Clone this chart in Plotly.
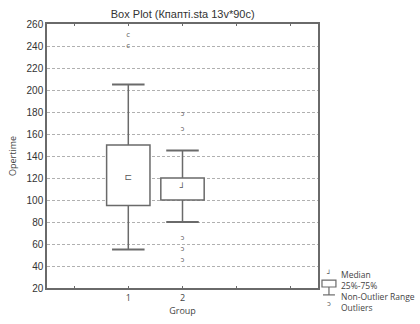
import plotly.graph_objects as go

# ---- data ----
groups = ["1", "2"]
group_pos = [1, 2]
q1 = [95, 100]
q3 = [150, 120]
median = [120, 110]
whisker_low = [55, 80]
whisker_high = [205, 145]
outliers = [[250, 240], [178, 164, 65, 55, 45]]
x_tickvals = [0, 1, 2, 3, 4]
x_ticktext = ["", "1", "2", "", ""]
y_ticks = list(range(20, 261, 20))

LINE = "#6a6a6a"
GRID = "#b0b0b0"
BOX_W = 0.8
CAP_W = 0.6

fig = go.Figure()

# boxes as bars (base = q1, height = q3 - q1)
fig.add_trace(go.Bar(
    x=group_pos, y=[b - a for a, b in zip(q1, q3)], base=q1, width=BOX_W,
    marker=dict(color="white", line=dict(color=LINE, width=1.5)),
    showlegend=False, hoverinfo="skip"))

# whiskers and caps
for x, lo, hi, a, b in zip(group_pos, whisker_low, whisker_high, q1, q3):
    fig.add_trace(go.Scatter(x=[x, x], y=[b, hi], mode="lines",
                             line=dict(color=LINE, width=1.5), showlegend=False, hoverinfo="skip"))
    fig.add_trace(go.Scatter(x=[x, x], y=[lo, a], mode="lines",
                             line=dict(color=LINE, width=1.5), showlegend=False, hoverinfo="skip"))
    for v in (lo, hi):
        fig.add_trace(go.Scatter(x=[x - CAP_W / 2, x + CAP_W / 2], y=[v, v], mode="lines",
                                 line=dict(color=LINE, width=2), showlegend=False, hoverinfo="skip"))

# median markers
med_glyph = ["⊏", "┘"]
fig.add_trace(go.Scatter(x=group_pos, y=median, mode="text", text=med_glyph,
                         textfont=dict(family="DejaVu Sans", size=9, color="#555"),
                         showlegend=False, hoverinfo="skip"))

# outliers
out_glyph = ["c", "ɔ"]
for x, outs, g in zip(group_pos, outliers, out_glyph):
    fig.add_trace(go.Scatter(x=[x] * len(outs), y=outs, mode="text", text=[g] * len(outs),
                             textfont=dict(family="DejaVu Sans", size=7, color="#555"),
                             showlegend=False, hoverinfo="skip"))

fig.update_layout(
    width=420, height=324,
    margin=dict(l=46, r=102, t=24, b=32),
    paper_bgcolor="white", plot_bgcolor="white",
    title=dict(text="Box Plot (Кпапті.sta 13v*90c)", x=0.435, xanchor="center", y=0.957, yanchor="middle",
               font=dict(family="Liberation Sans", size=11, color="#333")),
    xaxis=dict(range=[-0.5, 4.5], tickvals=x_tickvals, ticktext=x_ticktext,
               ticks="inside", ticklen=2, tickcolor=LINE, showgrid=False, zeroline=False,
               showline=True, linecolor=LINE, linewidth=1.5, mirror="ticks",
               tickfont=dict(family="Open Sans", size=9, color="#444"),
               title=dict(text="Group", standoff=2, font=dict(family="Open Sans", size=9, color="#444"))),
    yaxis=dict(range=[20, 260], tickvals=y_ticks, ticks="", showgrid=True, gridcolor=GRID,
               griddash="3px,2px", gridwidth=1, zeroline=False,
               showline=True, linecolor=LINE, linewidth=1.5, mirror=True,
               tickfont=dict(family="Liberation Sans", size=10, color="#333"),
               title=dict(text="Opertime", standoff=8, font=dict(family="Open Sans", size=9, color="#444"))),
    font=dict(family="Open Sans", color="#444"),
)

# legend (drawn as shapes + annotations in paper coordinates)
def px(xp):
    return (xp - 46) / 272.0

def py(yp):
    return (292 - yp) / 268.0

leg_items = ["Median", "25%-75%", "Non-Outlier Range", "Outliers"]
fig.add_annotation(x=px(339), y=py(295), xref="paper", yref="paper", text="<br>".join(leg_items),
                   showarrow=False, align="left", xanchor="left", yanchor="middle",
                   font=dict(family="Open Sans", size=8.5, color="#444"))
fig.add_annotation(x=px(329), y=py(277), xref="paper", yref="paper", text="┘", showarrow=False,
                   xanchor="center", yanchor="middle", font=dict(family="DejaVu Sans", size=7, color="#555"))
fig.add_annotation(x=px(329), y=py(308), xref="paper", yref="paper", text="ɔ", showarrow=False,
                   xanchor="center", yanchor="middle", font=dict(family="DejaVu Sans", size=7, color="#555"))
fig.add_shape(type="rect", xref="paper", yref="paper", x0=px(322), x1=px(336), y0=py(291), y1=py(284),
              line=dict(color=LINE, width=1.2), fillcolor="white")
fig.add_shape(type="line", xref="paper", yref="paper", x0=px(329), x1=px(329), y0=py(291), y1=py(299),
              line=dict(color=LINE, width=1.2))
fig.add_shape(type="line", xref="paper", yref="paper", x0=px(323), x1=px(335), y0=py(299), y1=py(299),
              line=dict(color=LINE, width=1.2))

fig.write_html("out.html")
